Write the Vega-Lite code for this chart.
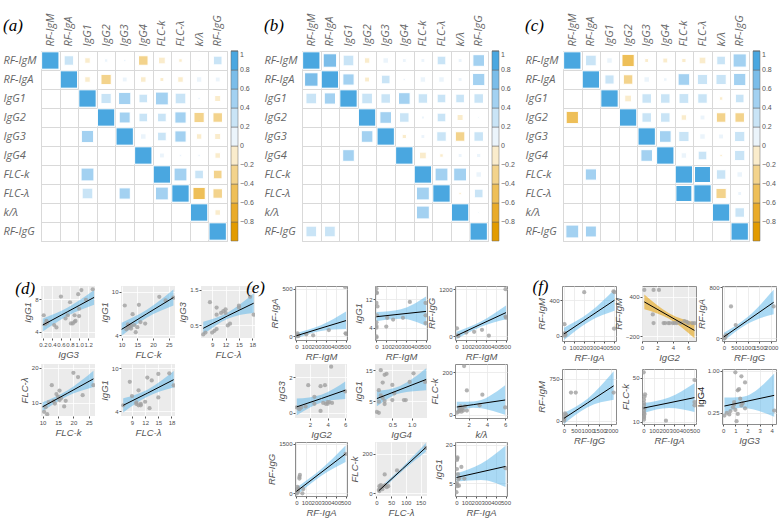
{
"$schema": "https://vega.github.io/schema/vega-lite/v6.json",
"background": "white",
"padding": {"left": 2, "top": 12, "right": 2, "bottom": 2},
"config": {
 "font": "Liberation Sans",
 "numberFormat": "d",
 "view": {"stroke": null},
 "axis": {"labelFontSize": 6, "labelColor": "#4d4d4d", "titleFontSize": 9.5, "titleColor": "#555555", "titleFontStyle": "italic", "titleFontWeight": "normal", "titlePadding": 2, "labelPadding": 1, "tickSize": 2, "tickColor": "#555555", "domain": false, "gridColor": "#e8e8e8", "gridWidth": 0.8, "labelOverlap": false, "labelFlush": false},
 "title": {"font": "Liberation Serif", "fontStyle": "italic", "fontSize": 17, "fontWeight": "normal", "anchor": "start", "frame": "bounds", "color": "#000000"},
 "legend": {"labelFontSize": 7, "labelColor": "#555555", "labelOverlap": false}
},
"resolve": {"scale": {"color": "independent", "size": "independent"}, "legend": {"color": "independent"}},
"datasets": {
"corr": [
{"m":"a","r":"RF-IgM","c":"RF-IgM","v":1},{"m":"a","r":"RF-IgM","c":"RF-IgA","v":0.3},{"m":"a","r":"RF-IgM","c":"IgG1","v":-0.1},{"m":"a","r":"RF-IgM","c":"IgG2","v":0.04},{"m":"a","r":"RF-IgM","c":"IgG3","v":0.02},{"m":"a","r":"RF-IgM","c":"IgG4","v":-0.3},{"m":"a","r":"RF-IgM","c":"FLC-k","v":-0.15},{"m":"a","r":"RF-IgM","c":"FLC-λ","v":-0.04},{"m":"a","r":"RF-IgM","c":"k/λ","v":0.01},{"m":"a","r":"RF-IgM","c":"RF-IgG","v":0.25},
{"m":"a","r":"RF-IgA","c":"RF-IgA","v":1},{"m":"a","r":"RF-IgA","c":"IgG1","v":-0.1},{"m":"a","r":"RF-IgA","c":"IgG2","v":-0.35},{"m":"a","r":"RF-IgA","c":"IgG3","v":0.08},{"m":"a","r":"RF-IgA","c":"IgG4","v":-0.1},{"m":"a","r":"RF-IgA","c":"FLC-k","v":-0.05},{"m":"a","r":"RF-IgA","c":"FLC-λ","v":-0.1},{"m":"a","r":"RF-IgA","c":"k/λ","v":0.1},{"m":"a","r":"RF-IgA","c":"RF-IgG","v":0.08},
{"m":"a","r":"IgG1","c":"IgG1","v":1},{"m":"a","r":"IgG1","c":"IgG2","v":0.35},{"m":"a","r":"IgG1","c":"IgG3","v":0.5},{"m":"a","r":"IgG1","c":"IgG4","v":0.25},{"m":"a","r":"IgG1","c":"FLC-k","v":0.55},{"m":"a","r":"IgG1","c":"FLC-λ","v":0.38},{"m":"a","r":"IgG1","c":"k/λ","v":0.02},{"m":"a","r":"IgG1","c":"RF-IgG","v":-0.12},
{"m":"a","r":"IgG2","c":"IgG2","v":1},{"m":"a","r":"IgG2","c":"IgG3","v":0.4},{"m":"a","r":"IgG2","c":"IgG4","v":0.25},{"m":"a","r":"IgG2","c":"FLC-k","v":0.25},{"m":"a","r":"IgG2","c":"FLC-λ","v":0.42},{"m":"a","r":"IgG2","c":"k/λ","v":-0.35},{"m":"a","r":"IgG2","c":"RF-IgG","v":-0.3},
{"m":"a","r":"IgG3","c":"IgG3","v":1},{"m":"a","r":"IgG3","c":"IgG4","v":0.1},{"m":"a","r":"IgG3","c":"FLC-k","v":0.25},{"m":"a","r":"IgG3","c":"FLC-λ","v":0.42},{"m":"a","r":"IgG3","c":"k/λ","v":-0.1},{"m":"a","r":"IgG3","c":"RF-IgG","v":-0.12},
{"m":"a","r":"IgG4","c":"IgG4","v":1},{"m":"a","r":"IgG4","c":"FLC-k","v":0.08},{"m":"a","r":"IgG4","c":"FLC-λ","v":0.02},{"m":"a","r":"IgG4","c":"k/λ","v":0.02},{"m":"a","r":"IgG4","c":"RF-IgG","v":-0.1},
{"m":"a","r":"FLC-k","c":"FLC-k","v":1},{"m":"a","r":"FLC-k","c":"FLC-λ","v":0.55},{"m":"a","r":"FLC-k","c":"k/λ","v":0.25},{"m":"a","r":"FLC-k","c":"RF-IgG","v":-0.25},
{"m":"a","r":"FLC-λ","c":"FLC-λ","v":1},{"m":"a","r":"FLC-λ","c":"k/λ","v":-0.5},{"m":"a","r":"FLC-λ","c":"RF-IgG","v":-0.3},
{"m":"a","r":"k/λ","c":"k/λ","v":1},{"m":"a","r":"k/λ","c":"RF-IgG","v":-0.1},
{"m":"a","r":"RF-IgG","c":"RF-IgG","v":1},
{"m":"a","r":"IgG3","c":"IgG1","v":0.5},{"m":"a","r":"FLC-k","c":"IgG1","v":0.55},{"m":"a","r":"FLC-λ","c":"IgG1","v":0.38},{"m":"a","r":"FLC-λ","c":"IgG3","v":0.42},{"m":"a","r":"FLC-λ","c":"FLC-k","v":0.55},
{"m":"b","r":"RF-IgM","c":"RF-IgM","v":1},{"m":"b","r":"RF-IgM","c":"RF-IgA","v":0.6},{"m":"b","r":"RF-IgM","c":"IgG1","v":0.38},{"m":"b","r":"RF-IgM","c":"IgG2","v":-0.1},{"m":"b","r":"RF-IgM","c":"IgG3","v":0.1},{"m":"b","r":"RF-IgM","c":"IgG4","v":0.05},{"m":"b","r":"RF-IgM","c":"FLC-k","v":0.05},{"m":"b","r":"RF-IgM","c":"FLC-λ","v":0.25},{"m":"b","r":"RF-IgM","c":"k/λ","v":0.05},{"m":"b","r":"RF-IgM","c":"RF-IgG","v":0.45},
{"m":"b","r":"RF-IgA","c":"RF-IgA","v":1},{"m":"b","r":"RF-IgA","c":"IgG1","v":0.42},{"m":"b","r":"RF-IgA","c":"IgG2","v":-0.08},{"m":"b","r":"RF-IgA","c":"IgG3","v":0.25},{"m":"b","r":"RF-IgA","c":"IgG4","v":0.02},{"m":"b","r":"RF-IgA","c":"FLC-k","v":0.1},{"m":"b","r":"RF-IgA","c":"FLC-λ","v":0.1},{"m":"b","r":"RF-IgA","c":"k/λ","v":0.05},{"m":"b","r":"RF-IgA","c":"RF-IgG","v":0.5},
{"m":"b","r":"IgG1","c":"IgG1","v":1},{"m":"b","r":"IgG1","c":"IgG2","v":0.38},{"m":"b","r":"IgG1","c":"IgG3","v":0.3},{"m":"b","r":"IgG1","c":"IgG4","v":0.45},{"m":"b","r":"IgG1","c":"FLC-k","v":0.3},{"m":"b","r":"IgG1","c":"FLC-λ","v":0.25},{"m":"b","r":"IgG1","c":"k/λ","v":0.25},{"m":"b","r":"IgG1","c":"RF-IgG","v":0.3},
{"m":"b","r":"IgG2","c":"IgG2","v":1},{"m":"b","r":"IgG2","c":"IgG3","v":0.45},{"m":"b","r":"IgG2","c":"IgG4","v":0.3},{"m":"b","r":"IgG2","c":"FLC-k","v":0.03},{"m":"b","r":"IgG2","c":"FLC-λ","v":0.25},{"m":"b","r":"IgG2","c":"k/λ","v":-0.12},{"m":"b","r":"IgG2","c":"RF-IgG","v":0.01},
{"m":"b","r":"IgG3","c":"IgG3","v":1},{"m":"b","r":"IgG3","c":"IgG4","v":-0.06},{"m":"b","r":"IgG3","c":"FLC-k","v":0.05},{"m":"b","r":"IgG3","c":"FLC-λ","v":0.3},{"m":"b","r":"IgG3","c":"k/λ","v":-0.3},{"m":"b","r":"IgG3","c":"RF-IgG","v":0.3},
{"m":"b","r":"IgG4","c":"IgG4","v":1},{"m":"b","r":"IgG4","c":"FLC-k","v":-0.15},{"m":"b","r":"IgG4","c":"FLC-λ","v":-0.04},{"m":"b","r":"IgG4","c":"k/λ","v":0.05},{"m":"b","r":"IgG4","c":"RF-IgG","v":0.06},
{"m":"b","r":"FLC-k","c":"FLC-k","v":1},{"m":"b","r":"FLC-k","c":"FLC-λ","v":0.55},{"m":"b","r":"FLC-k","c":"k/λ","v":0.55},{"m":"b","r":"FLC-k","c":"RF-IgG","v":0.1},
{"m":"b","r":"FLC-λ","c":"FLC-λ","v":1},{"m":"b","r":"FLC-λ","c":"k/λ","v":-0.02},{"m":"b","r":"FLC-λ","c":"RF-IgG","v":0.25},
{"m":"b","r":"k/λ","c":"k/λ","v":1},{"m":"b","r":"k/λ","c":"RF-IgG","v":0.01},
{"m":"b","r":"RF-IgG","c":"RF-IgG","v":1},
{"m":"b","r":"RF-IgA","c":"RF-IgM","v":0.6},{"m":"b","r":"IgG1","c":"RF-IgM","v":0.38},{"m":"b","r":"IgG1","c":"RF-IgA","v":0.42},{"m":"b","r":"IgG3","c":"IgG2","v":0.45},{"m":"b","r":"IgG4","c":"IgG1","v":0.45},{"m":"b","r":"FLC-λ","c":"FLC-k","v":0.55},{"m":"b","r":"k/λ","c":"FLC-k","v":0.55},{"m":"b","r":"RF-IgG","c":"RF-IgM","v":0.38},{"m":"b","r":"RF-IgG","c":"RF-IgA","v":0.38},
{"m":"c","r":"RF-IgM","c":"RF-IgM","v":1},{"m":"c","r":"RF-IgM","c":"RF-IgA","v":0.38},{"m":"c","r":"RF-IgM","c":"IgG1","v":0.1},{"m":"c","r":"RF-IgM","c":"IgG2","v":-0.5},{"m":"c","r":"RF-IgM","c":"IgG3","v":-0.05},{"m":"c","r":"RF-IgM","c":"IgG4","v":-0.08},{"m":"c","r":"RF-IgM","c":"FLC-k","v":-0.06},{"m":"c","r":"RF-IgM","c":"FLC-λ","v":-0.15},{"m":"c","r":"RF-IgM","c":"k/λ","v":0.25},{"m":"c","r":"RF-IgM","c":"RF-IgG","v":0.58},
{"m":"c","r":"RF-IgA","c":"RF-IgA","v":1},{"m":"c","r":"RF-IgA","c":"IgG1","v":0.28},{"m":"c","r":"RF-IgA","c":"IgG2","v":-0.3},{"m":"c","r":"RF-IgA","c":"IgG3","v":0.1},{"m":"c","r":"RF-IgA","c":"IgG4","v":0.04},{"m":"c","r":"RF-IgA","c":"FLC-k","v":0.45},{"m":"c","r":"RF-IgA","c":"FLC-λ","v":0.35},{"m":"c","r":"RF-IgA","c":"k/λ","v":0.35},{"m":"c","r":"RF-IgA","c":"RF-IgG","v":0.5},
{"m":"c","r":"IgG1","c":"IgG1","v":1},{"m":"c","r":"IgG1","c":"IgG2","v":-0.15},{"m":"c","r":"IgG1","c":"IgG3","v":0.3},{"m":"c","r":"IgG1","c":"IgG4","v":0.3},{"m":"c","r":"IgG1","c":"FLC-k","v":0.32},{"m":"c","r":"IgG1","c":"FLC-λ","v":0.3},{"m":"c","r":"IgG1","c":"k/λ","v":-0.04},{"m":"c","r":"IgG1","c":"RF-IgG","v":0.25},
{"m":"c","r":"IgG2","c":"IgG2","v":1},{"m":"c","r":"IgG2","c":"IgG3","v":0.3},{"m":"c","r":"IgG2","c":"IgG4","v":0.3},{"m":"c","r":"IgG2","c":"FLC-k","v":-0.1},{"m":"c","r":"IgG2","c":"FLC-λ","v":0.08},{"m":"c","r":"IgG2","c":"k/λ","v":-0.3},{"m":"c","r":"IgG2","c":"RF-IgG","v":-0.3},
{"m":"c","r":"IgG3","c":"IgG3","v":1},{"m":"c","r":"IgG3","c":"IgG4","v":0.45},{"m":"c","r":"IgG3","c":"FLC-k","v":0.35},{"m":"c","r":"IgG3","c":"FLC-λ","v":0.1},{"m":"c","r":"IgG3","c":"k/λ","v":0.08},{"m":"c","r":"IgG3","c":"RF-IgG","v":0.35},
{"m":"c","r":"IgG4","c":"IgG4","v":1},{"m":"c","r":"IgG4","c":"FLC-k","v":0.1},{"m":"c","r":"IgG4","c":"FLC-λ","v":0.25},{"m":"c","r":"IgG4","c":"k/λ","v":-0.02},{"m":"c","r":"IgG4","c":"RF-IgG","v":0.35},
{"m":"c","r":"FLC-k","c":"FLC-k","v":1},{"m":"c","r":"FLC-k","c":"FLC-λ","v":0.85},{"m":"c","r":"FLC-k","c":"k/λ","v":0.3},{"m":"c","r":"FLC-k","c":"RF-IgG","v":0.1},
{"m":"c","r":"FLC-λ","c":"FLC-λ","v":1},{"m":"c","r":"FLC-λ","c":"k/λ","v":-0.35},{"m":"c","r":"FLC-λ","c":"RF-IgG","v":0.05},
{"m":"c","r":"k/λ","c":"k/λ","v":1},{"m":"c","r":"k/λ","c":"RF-IgG","v":0.3},
{"m":"c","r":"RF-IgG","c":"RF-IgG","v":1},
{"m":"c","r":"IgG2","c":"RF-IgM","v":-0.5},{"m":"c","r":"IgG4","c":"IgG3","v":0.45},{"m":"c","r":"FLC-k","c":"RF-IgA","v":0.42},{"m":"c","r":"FLC-λ","c":"FLC-k","v":0.85},{"m":"c","r":"RF-IgG","c":"RF-IgM","v":0.55},{"m":"c","r":"RF-IgG","c":"RF-IgA","v":0.4}
],
"sc": [
{"p":"d1","x":0.22,"y":6.0},{"p":"d1","x":0.25,"y":4.9},{"p":"d1","x":0.28,"y":5.3},{"p":"d1","x":0.3,"y":5.1},{"p":"d1","x":0.45,"y":4.8},{"p":"d1","x":0.5,"y":4.5},{"p":"d1","x":0.6,"y":8.3},{"p":"d1","x":0.7,"y":5.6},{"p":"d1","x":0.75,"y":6.0},{"p":"d1","x":0.8,"y":7.6},{"p":"d1","x":0.82,"y":5.0},{"p":"d1","x":0.86,"y":5.0},{"p":"d1","x":0.9,"y":5.2},{"p":"d1","x":0.9,"y":6.0},{"p":"d1","x":0.92,"y":5.3},{"p":"d1","x":0.98,"y":8.6},{"p":"d1","x":1.0,"y":5.9},{"p":"d1","x":1.0,"y":6.8},{"p":"d1","x":1.05,"y":9.1},{"p":"d1","x":1.15,"y":7.9},{"p":"d1","x":1.3,"y":9.2},
{"p":"d1","f":1,"x":0.2,"y":4.8,"lo":4.0,"hi":5.6},{"p":"d1","f":1,"x":0.75,"y":6.45,"lo":5.95,"hi":6.95},{"p":"d1","f":1,"x":1.33,"y":8.2,"lo":7.3,"hi":9.1},
{"p":"d2","x":11,"y":8.1},{"p":"d2","x":11.5,"y":4.8},{"p":"d2","x":12,"y":5.0},{"p":"d2","x":12.5,"y":5.2},{"p":"d2","x":13,"y":5.3},{"p":"d2","x":13.5,"y":6.9},{"p":"d2","x":14,"y":5.4},{"p":"d2","x":14.5,"y":4.4},{"p":"d2","x":15,"y":5.1},{"p":"d2","x":15.5,"y":8.2},{"p":"d2","x":16,"y":5.8},{"p":"d2","x":17.5,"y":5.6},{"p":"d2","x":22,"y":9.3},{"p":"d2","x":26.5,"y":9.2},{"p":"d2","x":12,"y":5.5},{"p":"d2","x":13,"y":4.9},{"p":"d2","x":24,"y":8.8},
{"p":"d2","f":1,"x":10,"y":4.8,"lo":3.9,"hi":5.7},{"p":"d2","f":1,"x":18,"y":6.95,"lo":6.4,"hi":7.5},{"p":"d2","f":1,"x":26.5,"y":9.2,"lo":8.1,"hi":10.3},
{"p":"d3","x":7,"y":0.25},{"p":"d3","x":7.5,"y":0.3},{"p":"d3","x":8.5,"y":1.15},{"p":"d3","x":9,"y":0.3},{"p":"d3","x":9.5,"y":0.35},{"p":"d3","x":10,"y":1.0},{"p":"d3","x":10,"y":0.4},{"p":"d3","x":10,"y":0.8},{"p":"d3","x":11,"y":0.85},{"p":"d3","x":11.5,"y":0.9},{"p":"d3","x":12,"y":0.85},{"p":"d3","x":12,"y":0.95},{"p":"d3","x":12.5,"y":0.5},{"p":"d3","x":13,"y":0.55},{"p":"d3","x":15,"y":1.05},{"p":"d3","x":15,"y":1.0},{"p":"d3","x":17.5,"y":1.3},{"p":"d3","x":18.3,"y":0.8},
{"p":"d3","f":1,"x":7,"y":0.42,"lo":0.25,"hi":0.6},{"p":"d3","f":1,"x":12.5,"y":0.77,"lo":0.69,"hi":0.86},{"p":"d3","f":1,"x":18.3,"y":1.12,"lo":0.85,"hi":1.4},
{"p":"d4","x":10.5,"y":7.5},{"p":"d4","x":11,"y":8.8},{"p":"d4","x":11.5,"y":6.8},{"p":"d4","x":12,"y":10.2},{"p":"d4","x":13,"y":15.0},{"p":"d4","x":13.5,"y":10.5},{"p":"d4","x":14,"y":9.8},{"p":"d4","x":14.5,"y":12.5},{"p":"d4","x":15,"y":11.8},{"p":"d4","x":15.5,"y":13.5},{"p":"d4","x":15.5,"y":10.8},{"p":"d4","x":16,"y":11.3},{"p":"d4","x":17,"y":9.0},{"p":"d4","x":17.5,"y":10.6},{"p":"d4","x":20,"y":18.5},{"p":"d4","x":21.5,"y":17.3},{"p":"d4","x":23,"y":12.2},{"p":"d4","x":26.5,"y":15.0},
{"p":"d4","f":1,"x":10,"y":8.9,"lo":7.6,"hi":10.2},{"p":"d4","f":1,"x":18,"y":12.7,"lo":11.9,"hi":13.5},{"p":"d4","f":1,"x":26.5,"y":16.8,"lo":14.5,"hi":19.1},
{"p":"d5","x":7,"y":4.8},{"p":"d5","x":8.5,"y":8.1},{"p":"d5","x":9,"y":6.1},{"p":"d5","x":10,"y":5.0},{"p":"d5","x":10.5,"y":4.8},{"p":"d5","x":10.5,"y":6.9},{"p":"d5","x":11,"y":5.0},{"p":"d5","x":11,"y":4.8},{"p":"d5","x":12,"y":5.3},{"p":"d5","x":12.5,"y":8.7},{"p":"d5","x":13,"y":4.4},{"p":"d5","x":13.5,"y":8.3},{"p":"d5","x":15,"y":5.9},{"p":"d5","x":15,"y":9.2},{"p":"d5","x":17.5,"y":9.3},{"p":"d5","x":18.5,"y":7.6},{"p":"d5","x":10,"y":5.2},
{"p":"d5","f":1,"x":7,"y":4.8,"lo":3.8,"hi":5.8},{"p":"d5","f":1,"x":12.5,"y":6.5,"lo":6.0,"hi":7.0},{"p":"d5","f":1,"x":18.5,"y":8.4,"lo":7.3,"hi":9.6},
{"p":"e1","x":5,"y":10},{"p":"e1","x":10,"y":30},{"p":"e1","x":15,"y":0},{"p":"e1","x":20,"y":5},{"p":"e1","x":100,"y":20},{"p":"e1","x":170,"y":10},{"p":"e1","x":330,"y":65},{"p":"e1","x":495,"y":520},{"p":"e1","x":500,"y":30},{"p":"e1","x":505,"y":25},
{"p":"e1","f":1,"x":0,"y":5,"lo":-25,"hi":35},{"p":"e1","f":1,"x":250,"y":85,"lo":55,"hi":115},{"p":"e1","f":1,"x":505,"y":165,"lo":75,"hi":260},
{"p":"e2","x":0,"y":15},{"p":"e2","x":0,"y":14},{"p":"e2","x":5,"y":13.8},{"p":"e2","x":0,"y":11},{"p":"e2","x":10,"y":10},{"p":"e2","x":0,"y":5.5},{"p":"e2","x":0,"y":4.5},{"p":"e2","x":0,"y":4},{"p":"e2","x":0,"y":1.5},{"p":"e2","x":0,"y":1.2},{"p":"e2","x":5,"y":7.5},{"p":"e2","x":100,"y":4.3},{"p":"e2","x":110,"y":6.8},{"p":"e2","x":170,"y":6.3},{"p":"e2","x":270,"y":6.8},{"p":"e2","x":340,"y":11.3},{"p":"e2","x":500,"y":11},{"p":"e2","x":500,"y":5.3},{"p":"e2","x":500,"y":7.5},
{"p":"e2","f":1,"x":0,"y":7.1,"lo":5.8,"hi":8.4},{"p":"e2","f":1,"x":250,"y":7.85,"lo":6.5,"hi":9.2},{"p":"e2","f":1,"x":505,"y":8.6,"lo":4.5,"hi":12.8},
{"p":"e3","x":5,"y":200},{"p":"e3","x":10,"y":20},{"p":"e3","x":20,"y":0},{"p":"e3","x":100,"y":90},{"p":"e3","x":180,"y":110},{"p":"e3","x":260,"y":160},{"p":"e3","x":330,"y":10},{"p":"e3","x":500,"y":1200},{"p":"e3","x":500,"y":500},{"p":"e3","x":505,"y":470},
{"p":"e3","f":1,"x":0,"y":10,"lo":-80,"hi":110},{"p":"e3","f":1,"x":250,"y":305,"lo":240,"hi":370},{"p":"e3","f":1,"x":505,"y":600,"lo":430,"hi":780},
{"p":"e4","x":0.5,"y":0.3},{"p":"e4","x":0.8,"y":0.2},{"p":"e4","x":1.0,"y":0.3},{"p":"e4","x":1.8,"y":1.55},{"p":"e4","x":2.5,"y":0.9},{"p":"e4","x":3.2,"y":1.5},{"p":"e4","x":3.2,"y":0.1},{"p":"e4","x":3.5,"y":0.55},{"p":"e4","x":3.7,"y":1.55},{"p":"e4","x":3.8,"y":0.5},{"p":"e4","x":4.0,"y":0.5},{"p":"e4","x":4.0,"y":0.6},{"p":"e4","x":4.2,"y":0.6},{"p":"e4","x":4.4,"y":2.6},{"p":"e4","x":4.5,"y":0.55},{"p":"e4","x":2.5,"y":0.5},{"p":"e4","x":1.5,"y":0.35},{"p":"e4","x":6.0,"y":1.2},
{"p":"e4","f":1,"x":0.5,"y":0.33,"lo":-0.15,"hi":0.8},{"p":"e4","f":1,"x":3.3,"y":0.8,"lo":0.58,"hi":1.02},{"p":"e4","f":1,"x":6.0,"y":1.27,"lo":0.78,"hi":1.76},
{"p":"e5","x":0.1,"y":1.5},{"p":"e5","x":0.15,"y":1.2},{"p":"e5","x":0.15,"y":8.5},{"p":"e5","x":0.15,"y":4.8},{"p":"e5","x":0.2,"y":15},{"p":"e5","x":0.25,"y":6.0},{"p":"e5","x":0.25,"y":11},{"p":"e5","x":0.3,"y":4},{"p":"e5","x":0.3,"y":13.5},{"p":"e5","x":0.3,"y":5},{"p":"e5","x":0.35,"y":13.8},{"p":"e5","x":0.5,"y":10.2},{"p":"e5","x":0.5,"y":5.3},{"p":"e5","x":0.55,"y":7.5},{"p":"e5","x":0.8,"y":5.3},{"p":"e5","x":0.85,"y":5.3},{"p":"e5","x":0.95,"y":11.2},{"p":"e5","x":1.05,"y":14.0},{"p":"e5","x":1.35,"y":11.2},{"p":"e5","x":0.2,"y":6.8},
{"p":"e5","f":1,"x":0.1,"y":5.8,"lo":3.3,"hi":8.3},{"p":"e5","f":1,"x":0.7,"y":8.7,"lo":7.5,"hi":9.9},{"p":"e5","f":1,"x":1.38,"y":12.0,"lo":8.5,"hi":15.6},
{"p":"e6","x":0.7,"y":10},{"p":"e6","x":0.9,"y":15},{"p":"e6","x":1.0,"y":20},{"p":"e6","x":1.1,"y":40},{"p":"e6","x":1.2,"y":25},{"p":"e6","x":1.3,"y":30},{"p":"e6","x":1.4,"y":20},{"p":"e6","x":1.5,"y":230},{"p":"e6","x":1.6,"y":40},{"p":"e6","x":1.8,"y":20},{"p":"e6","x":1.8,"y":115},{"p":"e6","x":3.5,"y":95},{"p":"e6","x":3.2,"y":45},{"p":"e6","x":6.0,"y":35},{"p":"e6","x":1.0,"y":30},{"p":"e6","x":1.2,"y":15},
{"p":"e6","f":1,"x":0.7,"y":37,"lo":12,"hi":62},{"p":"e6","f":1,"x":2.5,"y":48,"lo":33,"hi":63},{"p":"e6","f":1,"x":6.0,"y":70,"lo":0,"hi":140},
{"p":"e7","x":5,"y":0},{"p":"e7","x":10,"y":200},{"p":"e7","x":15,"y":100},{"p":"e7","x":20,"y":150},{"p":"e7","x":30,"y":500},{"p":"e7","x":35,"y":560},{"p":"e7","x":30,"y":450},{"p":"e7","x":60,"y":0},{"p":"e7","x":70,"y":130},{"p":"e7","x":500,"y":1200},{"p":"e7","x":15,"y":50},
{"p":"e7","f":1,"x":0,"y":60,"lo":-60,"hi":180},{"p":"e7","f":1,"x":250,"y":630,"lo":530,"hi":730},{"p":"e7","f":1,"x":500,"y":1200,"lo":950,"hi":1450},
{"p":"e8","x":8,"y":15},{"p":"e8","x":10,"y":35},{"p":"e8","x":12,"y":25},{"p":"e8","x":15,"y":40},{"p":"e8","x":18,"y":30},{"p":"e8","x":20,"y":20},{"p":"e8","x":25,"y":35},{"p":"e8","x":28,"y":95},{"p":"e8","x":30,"y":40},{"p":"e8","x":35,"y":30},{"p":"e8","x":40,"y":35},{"p":"e8","x":70,"y":115},{"p":"e8","x":168,"y":230},{"p":"e8","x":10,"y":10},
{"p":"e8","f":1,"x":8,"y":12,"lo":0,"hi":25},{"p":"e8","f":1,"x":88,"y":122,"lo":112,"hi":132},{"p":"e8","f":1,"x":168,"y":232,"lo":210,"hi":255},
{"p":"e9","x":0,"y":1.5},{"p":"e9","x":0,"y":4.5},{"p":"e9","x":5,"y":5},{"p":"e9","x":5,"y":10.5},{"p":"e9","x":5,"y":14},{"p":"e9","x":8,"y":14.5},{"p":"e9","x":10,"y":15},{"p":"e9","x":15,"y":8.5},{"p":"e9","x":20,"y":6.5},{"p":"e9","x":25,"y":4},{"p":"e9","x":30,"y":7},{"p":"e9","x":50,"y":11.3},{"p":"e9","x":80,"y":6.8},{"p":"e9","x":500,"y":10.8},{"p":"e9","x":10,"y":3.8},
{"p":"e9","f":1,"x":0,"y":7.2,"lo":5.6,"hi":8.8},{"p":"e9","f":1,"x":250,"y":9.35,"lo":6.2,"hi":12.5},{"p":"e9","f":1,"x":500,"y":11.5,"lo":3.5,"hi":19.5},
{"p":"f1","x":5,"y":0},{"p":"f1","x":5,"y":130},{"p":"f1","x":10,"y":30},{"p":"f1","x":15,"y":10},{"p":"f1","x":200,"y":490},{"p":"f1","x":490,"y":500},{"p":"f1","x":500,"y":490},{"p":"f1","x":495,"y":80},{"p":"f1","x":10,"y":20},
{"p":"f1","f":1,"x":0,"y":20,"lo":-50,"hi":90},{"p":"f1","f":1,"x":250,"y":210,"lo":160,"hi":260},{"p":"f1","f":1,"x":500,"y":400,"lo":280,"hi":520},
{"p":"f2","x":0.3,"y":500},{"p":"f2","x":1.5,"y":500},{"p":"f2","x":2.2,"y":500},{"p":"f2","x":1.4,"y":130},{"p":"f2","x":1.5,"y":0},{"p":"f2","x":2.8,"y":0},{"p":"f2","x":3.0,"y":0},{"p":"f2","x":3.4,"y":0},{"p":"f2","x":3.6,"y":0},{"p":"f2","x":4.0,"y":0},{"p":"f2","x":4.2,"y":0},{"p":"f2","x":4.5,"y":0},{"p":"f2","x":5.0,"y":5},{"p":"f2","x":5.5,"y":30},{"p":"f2","x":6.0,"y":0},{"p":"f2","x":6.5,"y":0},{"p":"f2","x":6.8,"y":0},{"p":"f2","x":5.8,"y":20},
{"p":"f2","f":1,"x":0.3,"y":320,"lo":210,"hi":430},{"p":"f2","f":1,"x":3.5,"y":108,"lo":65,"hi":150},{"p":"f2","f":1,"x":6.8,"y":-110,"lo":-230,"hi":10},
{"p":"f3","x":10,"y":0},{"p":"f3","x":20,"y":30},{"p":"f3","x":50,"y":10},{"p":"f3","x":300,"y":500},{"p":"f3","x":500,"y":210},{"p":"f3","x":2100,"y":500},{"p":"f3","x":100,"y":50},
{"p":"f3","f":1,"x":0,"y":25,"lo":-40,"hi":90},{"p":"f3","f":1,"x":1000,"y":282,"lo":230,"hi":335},{"p":"f3","f":1,"x":2100,"y":565,"lo":380,"hi":760},
{"p":"f4","x":10,"y":0},{"p":"f4","x":20,"y":30},{"p":"f4","x":50,"y":130},{"p":"f4","x":100,"y":100},{"p":"f4","x":300,"y":500},{"p":"f4","x":500,"y":500},{"p":"f4","x":2100,"y":500},{"p":"f4","x":30,"y":80},
{"p":"f4","f":1,"x":0,"y":40,"lo":-60,"hi":140},{"p":"f4","f":1,"x":1000,"y":316,"lo":240,"hi":392},{"p":"f4","f":1,"x":2100,"y":620,"lo":370,"hi":880},
{"p":"f5","x":2,"y":55},{"p":"f5","x":5,"y":12},{"p":"f5","x":5,"y":15},{"p":"f5","x":5,"y":18},{"p":"f5","x":5,"y":20},{"p":"f5","x":5,"y":25},{"p":"f5","x":5,"y":30},{"p":"f5","x":5,"y":14},{"p":"f5","x":10,"y":33},{"p":"f5","x":15,"y":35},{"p":"f5","x":10,"y":22},{"p":"f5","x":10,"y":17},{"p":"f5","x":220,"y":11},{"p":"f5","x":500,"y":48},{"p":"f5","x":500,"y":28},{"p":"f5","x":500,"y":25},{"p":"f5","x":5,"y":27},
{"p":"f5","f":1,"x":0,"y":22.5,"lo":18,"hi":27},{"p":"f5","f":1,"x":250,"y":27.2,"lo":22.5,"hi":32},{"p":"f5","f":1,"x":500,"y":32,"lo":19,"hi":45},
{"p":"f6","x":0.1,"y":0.2},{"p":"f6","x":0.3,"y":0.25},{"p":"f6","x":0.5,"y":0.22},{"p":"f6","x":0.6,"y":0.28},{"p":"f6","x":0.8,"y":0.35},{"p":"f6","x":0.9,"y":0.4},{"p":"f6","x":1.0,"y":0.97},{"p":"f6","x":1.0,"y":0.3},{"p":"f6","x":1.1,"y":0.1},{"p":"f6","x":1.2,"y":0.65},{"p":"f6","x":1.2,"y":0.23},{"p":"f6","x":1.3,"y":0.67},{"p":"f6","x":1.4,"y":0.5},{"p":"f6","x":1.5,"y":0.9},{"p":"f6","x":1.5,"y":0.38},{"p":"f6","x":1.6,"y":0.42},{"p":"f6","x":1.8,"y":0.79},{"p":"f6","x":1.8,"y":0.33},{"p":"f6","x":4.2,"y":0.29},{"p":"f6","x":0.9,"y":0.44},
{"p":"f6","f":1,"x":0.1,"y":0.37,"lo":0.22,"hi":0.52},{"p":"f6","f":1,"x":1.5,"y":0.435,"lo":0.34,"hi":0.53},{"p":"f6","f":1,"x":4.2,"y":0.56,"lo":0.18,"hi":0.95}
]
},
"spacing": 34,
"vconcat": [
{"hconcat": [
 {"title": {"text": "(a)", "offset": -22}, "data": {"name": "corr"}, "transform": [{"filter": "datum.m=='a'"}], "width": 186, "height": 190, "view": {"stroke": "#d9d9d9"},
  "mark": {"type": "square", "filled": true, "stroke": "white", "strokeWidth": 1, "opacity": 1},
  "encoding": {
   "x": {"field": "c", "type": "nominal", "scale": {"type": "band", "domain": ["RF-IgM","RF-IgA","IgG1","IgG2","IgG3","IgG4","FLC-k","FLC-λ","k/λ","RF-IgG"], "paddingInner": 0, "paddingOuter": 0}, "axis": {"orient": "top", "title": null, "labelAngle": -90, "labelFontSize": 11, "labelFont": "Open Sans", "labelFontStyle": "italic", "labelColor": "#666666", "labelPadding": 5, "ticks": false, "domain": false, "grid": true, "tickBand": "extent", "gridColor": "#d9d9d9", "gridWidth": 1}},
   "y": {"field": "r", "type": "nominal", "scale": {"type": "band", "domain": ["RF-IgM","RF-IgA","IgG1","IgG2","IgG3","IgG4","FLC-k","FLC-λ","k/λ","RF-IgG"], "paddingInner": 0, "paddingOuter": 0}, "axis": {"title": null, "labelFontSize": 11, "labelFont": "Open Sans", "labelFontStyle": "italic", "labelColor": "#666666", "labelAlign": "left", "labelPadding": 38, "ticks": false, "domain": false, "grid": true, "tickBand": "extent", "gridColor": "#d9d9d9", "gridWidth": 1}},
   "color": {"field": "v", "type": "quantitative", "scale": {"type": "quantize", "domain": [-1, 1], "nice": false, "zero": false, "range": ["#e29b00","#e9ab2a","#eebf58","#f3d38c","#faeccc","#ebf4fb","#c9e4f6","#a3d1f1","#7bbde9","#4aa7e0"]}, "legend": {"type": "gradient", "title": null, "orient": "right", "direction": "vertical", "gradientLength": 190, "gradientThickness": 7, "offset": 4, "labelOffset": 2, "labelOverlap": false, "format": ".1~f", "values": [-1,-0.8,-0.6,-0.4,-0.2,0,0.2,0.4,0.6,0.8,1], "gradientStrokeColor": "#666666", "gradientStrokeWidth": 0.5}},
   "size": {"field": "v", "type": "quantitative", "scale": {"domain": [-1, 0, 1], "range": [300, 0, 300]}, "legend": null}
  }},
 {"title": {"text": "(b)", "offset": -22}, "data": {"name": "corr"}, "transform": [{"filter": "datum.m=='b'"}], "width": 186, "height": 190, "view": {"stroke": "#d9d9d9"},
  "mark": {"type": "square", "filled": true, "stroke": "white", "strokeWidth": 1, "opacity": 1},
  "encoding": {
   "x": {"field": "c", "type": "nominal", "scale": {"type": "band", "domain": ["RF-IgM","RF-IgA","IgG1","IgG2","IgG3","IgG4","FLC-k","FLC-λ","k/λ","RF-IgG"], "paddingInner": 0, "paddingOuter": 0}, "axis": {"orient": "top", "title": null, "labelAngle": -90, "labelFontSize": 11, "labelFont": "Open Sans", "labelFontStyle": "italic", "labelColor": "#666666", "labelPadding": 5, "ticks": false, "domain": false, "grid": true, "tickBand": "extent", "gridColor": "#d9d9d9", "gridWidth": 1}},
   "y": {"field": "r", "type": "nominal", "scale": {"type": "band", "domain": ["RF-IgM","RF-IgA","IgG1","IgG2","IgG3","IgG4","FLC-k","FLC-λ","k/λ","RF-IgG"], "paddingInner": 0, "paddingOuter": 0}, "axis": {"title": null, "labelFontSize": 11, "labelFont": "Open Sans", "labelFontStyle": "italic", "labelColor": "#666666", "labelAlign": "left", "labelPadding": 38, "ticks": false, "domain": false, "grid": true, "tickBand": "extent", "gridColor": "#d9d9d9", "gridWidth": 1}},
   "color": {"field": "v", "type": "quantitative", "scale": {"type": "quantize", "domain": [-1, 1], "nice": false, "zero": false, "range": ["#e29b00","#e9ab2a","#eebf58","#f3d38c","#faeccc","#ebf4fb","#c9e4f6","#a3d1f1","#7bbde9","#4aa7e0"]}, "legend": {"type": "gradient", "title": null, "orient": "right", "direction": "vertical", "gradientLength": 190, "gradientThickness": 7, "offset": 4, "labelOffset": 2, "labelOverlap": false, "format": ".1~f", "values": [-1,-0.8,-0.6,-0.4,-0.2,0,0.2,0.4,0.6,0.8,1], "gradientStrokeColor": "#666666", "gradientStrokeWidth": 0.5}},
   "size": {"field": "v", "type": "quantitative", "scale": {"domain": [-1, 0, 1], "range": [300, 0, 300]}, "legend": null}
  }},
 {"title": {"text": "(c)", "offset": -22}, "data": {"name": "corr"}, "transform": [{"filter": "datum.m=='c'"}], "width": 186, "height": 190, "view": {"stroke": "#d9d9d9"},
  "mark": {"type": "square", "filled": true, "stroke": "white", "strokeWidth": 1, "opacity": 1},
  "encoding": {
   "x": {"field": "c", "type": "nominal", "scale": {"type": "band", "domain": ["RF-IgM","RF-IgA","IgG1","IgG2","IgG3","IgG4","FLC-k","FLC-λ","k/λ","RF-IgG"], "paddingInner": 0, "paddingOuter": 0}, "axis": {"orient": "top", "title": null, "labelAngle": -90, "labelFontSize": 11, "labelFont": "Open Sans", "labelFontStyle": "italic", "labelColor": "#666666", "labelPadding": 5, "ticks": false, "domain": false, "grid": true, "tickBand": "extent", "gridColor": "#d9d9d9", "gridWidth": 1}},
   "y": {"field": "r", "type": "nominal", "scale": {"type": "band", "domain": ["RF-IgM","RF-IgA","IgG1","IgG2","IgG3","IgG4","FLC-k","FLC-λ","k/λ","RF-IgG"], "paddingInner": 0, "paddingOuter": 0}, "axis": {"title": null, "labelFontSize": 11, "labelFont": "Open Sans", "labelFontStyle": "italic", "labelColor": "#666666", "labelAlign": "left", "labelPadding": 38, "ticks": false, "domain": false, "grid": true, "tickBand": "extent", "gridColor": "#d9d9d9", "gridWidth": 1}},
   "color": {"field": "v", "type": "quantitative", "scale": {"type": "quantize", "domain": [-1, 1], "nice": false, "zero": false, "range": ["#e29b00","#e9ab2a","#eebf58","#f3d38c","#faeccc","#ebf4fb","#c9e4f6","#a3d1f1","#7bbde9","#4aa7e0"]}, "legend": {"type": "gradient", "title": null, "orient": "right", "direction": "vertical", "gradientLength": 190, "gradientThickness": 7, "offset": 4, "labelOffset": 2, "labelOverlap": false, "format": ".1~f", "values": [-1,-0.8,-0.6,-0.4,-0.2,0,0.2,0.4,0.6,0.8,1], "gradientStrokeColor": "#666666", "gradientStrokeWidth": 0.5}},
   "size": {"field": "v", "type": "quantitative", "scale": {"domain": [-1, 0, 1], "range": [300, 0, 300]}, "legend": null}
  }}
 ], "spacing": 8, "resolve": {"scale": {"color": "independent", "size": "independent"}, "legend": {"color": "independent"}}},
{"hconcat": [
 {"hconcat": [
 {"title": {"text": "(d)", "offset": -12, "dx": -4}, "data": {"name": "sc"}, "columns": 3, "bounds": "flush", "align": "all", "spacing": {"row": 26, "column": 26}, "concat": [
  {"width": 54, "height": 52, "view": {"fill": "#ebebeb", "stroke": null}, "transform": [{"filter": "datum.p=='d1'"}],
   "encoding": {"x": {"field": "x", "type": "quantitative", "scale": {"domain": [0.16, 1.35], "nice": false, "zero": false}, "axis": {"title": "IgG3", "values": [0.2,0.4,0.6,0.8,1.0,1.2], "format": ".1f", "gridColor": "white"}}},
   "layer": [
    {"transform": [{"filter": "datum.f==1"}], "mark": {"type": "area", "color": "#56b4e9", "opacity": 0.5, "interpolate": "monotone", "clip": true}, "encoding": {"y": {"field": "lo", "type": "quantitative", "scale": {"domain": [3.2, 9.6], "nice": false, "zero": false}, "axis": {"title": "IgG1", "values": [4,6,8], "gridColor": "white"}}, "y2": {"field": "hi"}}},
    {"transform": [{"filter": "datum.f!=1"}], "mark": {"type": "circle", "color": "#a0a0a0", "size": 18, "opacity": 0.8, "clip": true}, "encoding": {"y": {"field": "y", "type": "quantitative"}}},
    {"transform": [{"filter": "datum.f==1"}], "mark": {"type": "line", "color": "black", "strokeWidth": 1, "clip": true}, "encoding": {"y": {"field": "y", "type": "quantitative"}}}
   ]},
  {"width": 54, "height": 52, "view": {"fill": "#ebebeb", "stroke": null}, "transform": [{"filter": "datum.p=='d2'"}],
   "encoding": {"x": {"field": "x", "type": "quantitative", "scale": {"domain": [9.8, 27], "nice": false, "zero": false}, "axis": {"title": "FLC-k", "values": [10,15,20,25], "gridColor": "white"}}},
   "layer": [
    {"transform": [{"filter": "datum.f==1"}], "mark": {"type": "area", "color": "#56b4e9", "opacity": 0.5, "interpolate": "monotone", "clip": true}, "encoding": {"y": {"field": "lo", "type": "quantitative", "scale": {"domain": [3.6, 10.8], "nice": false, "zero": false}, "axis": {"title": "IgG1", "values": [4,6,8,10], "gridColor": "white"}}, "y2": {"field": "hi"}}},
    {"transform": [{"filter": "datum.f!=1"}], "mark": {"type": "circle", "color": "#a0a0a0", "size": 18, "opacity": 0.8, "clip": true}, "encoding": {"y": {"field": "y", "type": "quantitative"}}},
    {"transform": [{"filter": "datum.f==1"}], "mark": {"type": "line", "color": "black", "strokeWidth": 1, "clip": true}, "encoding": {"y": {"field": "y", "type": "quantitative"}}}
   ]},
  {"width": 54, "height": 52, "view": {"fill": "#ebebeb", "stroke": null}, "transform": [{"filter": "datum.p=='d3'"}],
   "encoding": {"x": {"field": "x", "type": "quantitative", "scale": {"domain": [6.5, 18.6], "nice": false, "zero": false}, "axis": {"title": "FLC-λ", "values": [9,12,15,18], "gridColor": "white"}}},
   "layer": [
    {"transform": [{"filter": "datum.f==1"}], "mark": {"type": "area", "color": "#56b4e9", "opacity": 0.5, "interpolate": "monotone", "clip": true}, "encoding": {"y": {"field": "lo", "type": "quantitative", "scale": {"domain": [0.15, 1.6], "nice": false, "zero": false}, "axis": {"title": "IgG3", "values": [0.5,1.0,1.5], "format": ".1f", "gridColor": "white"}}, "y2": {"field": "hi"}}},
    {"transform": [{"filter": "datum.f!=1"}], "mark": {"type": "circle", "color": "#a0a0a0", "size": 18, "opacity": 0.8, "clip": true}, "encoding": {"y": {"field": "y", "type": "quantitative"}}},
    {"transform": [{"filter": "datum.f==1"}], "mark": {"type": "line", "color": "black", "strokeWidth": 1, "clip": true}, "encoding": {"y": {"field": "y", "type": "quantitative"}}}
   ]},
  {"width": 54, "height": 52, "view": {"fill": "#ebebeb", "stroke": null}, "transform": [{"filter": "datum.p=='d4'"}],
   "encoding": {"x": {"field": "x", "type": "quantitative", "scale": {"domain": [9.5, 27], "nice": false, "zero": false}, "axis": {"title": "FLC-k", "values": [10,15,20,25], "gridColor": "white"}}},
   "layer": [
    {"transform": [{"filter": "datum.f==1"}], "mark": {"type": "area", "color": "#56b4e9", "opacity": 0.5, "interpolate": "monotone", "clip": true}, "encoding": {"y": {"field": "lo", "type": "quantitative", "scale": {"domain": [6.3, 21], "nice": false, "zero": false}, "axis": {"title": "FLC-λ", "values": [10,15,20], "gridColor": "white"}}, "y2": {"field": "hi"}}},
    {"transform": [{"filter": "datum.f!=1"}], "mark": {"type": "circle", "color": "#a0a0a0", "size": 18, "opacity": 0.8, "clip": true}, "encoding": {"y": {"field": "y", "type": "quantitative"}}},
    {"transform": [{"filter": "datum.f==1"}], "mark": {"type": "line", "color": "black", "strokeWidth": 1, "clip": true}, "encoding": {"y": {"field": "y", "type": "quantitative"}}}
   ]},
  {"width": 54, "height": 52, "view": {"fill": "#ebebeb", "stroke": null}, "transform": [{"filter": "datum.p=='d5'"}],
   "encoding": {"x": {"field": "x", "type": "quantitative", "scale": {"domain": [6.5, 18.8], "nice": false, "zero": false}, "axis": {"title": "FLC-λ", "values": [9,12,15,18], "gridColor": "white"}}},
   "layer": [
    {"transform": [{"filter": "datum.f==1"}], "mark": {"type": "area", "color": "#56b4e9", "opacity": 0.5, "interpolate": "monotone", "clip": true}, "encoding": {"y": {"field": "lo", "type": "quantitative", "scale": {"domain": [3.3, 10.6], "nice": false, "zero": false}, "axis": {"title": "IgG1", "values": [4,6,8,10], "gridColor": "white"}}, "y2": {"field": "hi"}}},
    {"transform": [{"filter": "datum.f!=1"}], "mark": {"type": "circle", "color": "#a0a0a0", "size": 18, "opacity": 0.8, "clip": true}, "encoding": {"y": {"field": "y", "type": "quantitative"}}},
    {"transform": [{"filter": "datum.f==1"}], "mark": {"type": "line", "color": "black", "strokeWidth": 1, "clip": true}, "encoding": {"y": {"field": "y", "type": "quantitative"}}}
   ]}
 ]},
 {"title": {"text": "(e)", "offset": -12, "dx": -20}, "data": {"name": "sc"}, "columns": 3, "bounds": "flush", "align": "all", "spacing": {"row": 24, "column": 28}, "concat": [
  {"width": 52, "height": 54, "view": {"fill": "white", "stroke": "#8c8c8c"}, "transform": [{"filter": "datum.p=='e1'"}],
   "encoding": {"x": {"field": "x", "type": "quantitative", "scale": {"domain": [-15, 515], "nice": false, "zero": false}, "axis": {"title": "RF-IgM", "values": [0,100,200,300,400,500]}}},
   "layer": [
    {"transform": [{"filter": "datum.f==1"}], "mark": {"type": "area", "color": "#56b4e9", "opacity": 0.5, "interpolate": "monotone", "clip": true}, "encoding": {"y": {"field": "lo", "type": "quantitative", "scale": {"domain": [-40, 530], "nice": false, "zero": false}, "axis": {"title": "RF-IgA", "values": [0,100,200,300,400,500]}}, "y2": {"field": "hi"}}},
    {"transform": [{"filter": "datum.f!=1"}], "mark": {"type": "circle", "color": "#a0a0a0", "size": 18, "opacity": 0.8, "clip": true}, "encoding": {"y": {"field": "y", "type": "quantitative"}}},
    {"transform": [{"filter": "datum.f==1"}], "mark": {"type": "line", "color": "black", "strokeWidth": 1, "clip": true}, "encoding": {"y": {"field": "y", "type": "quantitative"}}}
   ]},
  {"width": 52, "height": 54, "view": {"fill": "white", "stroke": "#8c8c8c"}, "transform": [{"filter": "datum.p=='e2'"}],
   "encoding": {"x": {"field": "x", "type": "quantitative", "scale": {"domain": [-15, 515], "nice": false, "zero": false}, "axis": {"title": "RF-IgM", "values": [0,100,200,300,400,500]}}},
   "layer": [
    {"transform": [{"filter": "datum.f==1"}], "mark": {"type": "area", "color": "#56b4e9", "opacity": 0.5, "interpolate": "monotone", "clip": true}, "encoding": {"y": {"field": "lo", "type": "quantitative", "scale": {"domain": [0.5, 15.8], "nice": false, "zero": false}, "axis": {"title": "IgG1", "values": [4,8,12]}}, "y2": {"field": "hi"}}},
    {"transform": [{"filter": "datum.f!=1"}], "mark": {"type": "circle", "color": "#a0a0a0", "size": 18, "opacity": 0.8, "clip": true}, "encoding": {"y": {"field": "y", "type": "quantitative"}}},
    {"transform": [{"filter": "datum.f==1"}], "mark": {"type": "line", "color": "black", "strokeWidth": 1, "clip": true}, "encoding": {"y": {"field": "y", "type": "quantitative"}}}
   ]},
  {"width": 52, "height": 54, "view": {"fill": "white", "stroke": "#8c8c8c"}, "transform": [{"filter": "datum.p=='e3'"}],
   "encoding": {"x": {"field": "x", "type": "quantitative", "scale": {"domain": [-15, 515], "nice": false, "zero": false}, "axis": {"title": "RF-IgM", "values": [0,100,200,300,400,500]}}},
   "layer": [
    {"transform": [{"filter": "datum.f==1"}], "mark": {"type": "area", "color": "#56b4e9", "opacity": 0.5, "interpolate": "monotone", "clip": true}, "encoding": {"y": {"field": "lo", "type": "quantitative", "scale": {"domain": [-100, 1280], "nice": false, "zero": false}, "axis": {"title": "RF-IgG", "values": [0,400,800,1200]}}, "y2": {"field": "hi"}}},
    {"transform": [{"filter": "datum.f!=1"}], "mark": {"type": "circle", "color": "#a0a0a0", "size": 18, "opacity": 0.8, "clip": true}, "encoding": {"y": {"field": "y", "type": "quantitative"}}},
    {"transform": [{"filter": "datum.f==1"}], "mark": {"type": "line", "color": "black", "strokeWidth": 1, "clip": true}, "encoding": {"y": {"field": "y", "type": "quantitative"}}}
   ]},
  {"width": 52, "height": 54, "view": {"fill": "#ebebeb", "stroke": null}, "transform": [{"filter": "datum.p=='e4'"}],
   "encoding": {"x": {"field": "x", "type": "quantitative", "scale": {"domain": [0.3, 6.2], "nice": false, "zero": false}, "axis": {"title": "IgG2", "values": [2,4,6], "gridColor": "white"}}},
   "layer": [
    {"transform": [{"filter": "datum.f==1"}], "mark": {"type": "area", "color": "#56b4e9", "opacity": 0.5, "interpolate": "monotone", "clip": true}, "encoding": {"y": {"field": "lo", "type": "quantitative", "scale": {"domain": [-0.3, 2.75], "nice": false, "zero": false}, "axis": {"title": "IgG3", "values": [0,1,2], "gridColor": "white"}}, "y2": {"field": "hi"}}},
    {"transform": [{"filter": "datum.f!=1"}], "mark": {"type": "circle", "color": "#a0a0a0", "size": 18, "opacity": 0.8, "clip": true}, "encoding": {"y": {"field": "y", "type": "quantitative"}}},
    {"transform": [{"filter": "datum.f==1"}], "mark": {"type": "line", "color": "black", "strokeWidth": 1, "clip": true}, "encoding": {"y": {"field": "y", "type": "quantitative"}}}
   ]},
  {"width": 52, "height": 54, "view": {"fill": "#ebebeb", "stroke": null}, "transform": [{"filter": "datum.p=='e5'"}],
   "encoding": {"x": {"field": "x", "type": "quantitative", "scale": {"domain": [0.05, 1.4], "nice": false, "zero": false}, "axis": {"title": "IgG4", "values": [0.5,1.0], "format": ".1f", "gridColor": "white"}}},
   "layer": [
    {"transform": [{"filter": "datum.f==1"}], "mark": {"type": "area", "color": "#56b4e9", "opacity": 0.5, "interpolate": "monotone", "clip": true}, "encoding": {"y": {"field": "lo", "type": "quantitative", "scale": {"domain": [-0.5, 17], "nice": false, "zero": false}, "axis": {"title": "IgG1", "values": [5,10,15], "gridColor": "white"}}, "y2": {"field": "hi"}}},
    {"transform": [{"filter": "datum.f!=1"}], "mark": {"type": "circle", "color": "#a0a0a0", "size": 18, "opacity": 0.8, "clip": true}, "encoding": {"y": {"field": "y", "type": "quantitative"}}},
    {"transform": [{"filter": "datum.f==1"}], "mark": {"type": "line", "color": "black", "strokeWidth": 1, "clip": true}, "encoding": {"y": {"field": "y", "type": "quantitative"}}}
   ]},
  {"width": 52, "height": 54, "view": {"fill": "white", "stroke": "#8c8c8c"}, "transform": [{"filter": "datum.p=='e6'"}],
   "encoding": {"x": {"field": "x", "type": "quantitative", "scale": {"domain": [0.5, 6.2], "nice": false, "zero": false}, "axis": {"title": "k/λ", "values": [2,4,6]}}},
   "layer": [
    {"transform": [{"filter": "datum.f==1"}], "mark": {"type": "area", "color": "#56b4e9", "opacity": 0.5, "interpolate": "monotone", "clip": true}, "encoding": {"y": {"field": "lo", "type": "quantitative", "scale": {"domain": [-15, 240], "nice": false, "zero": false}, "axis": {"title": "FLC-k", "values": [0,50,100,150,200]}}, "y2": {"field": "hi"}}},
    {"transform": [{"filter": "datum.f!=1"}], "mark": {"type": "circle", "color": "#a0a0a0", "size": 18, "opacity": 0.8, "clip": true}, "encoding": {"y": {"field": "y", "type": "quantitative"}}},
    {"transform": [{"filter": "datum.f==1"}], "mark": {"type": "line", "color": "black", "strokeWidth": 1, "clip": true}, "encoding": {"y": {"field": "y", "type": "quantitative"}}}
   ]},
  {"width": 52, "height": 54, "view": {"fill": "white", "stroke": "#8c8c8c"}, "transform": [{"filter": "datum.p=='e7'"}],
   "encoding": {"x": {"field": "x", "type": "quantitative", "scale": {"domain": [-15, 515], "nice": false, "zero": false}, "axis": {"title": "RF-IgA", "values": [0,100,200,300,400,500]}}},
   "layer": [
    {"transform": [{"filter": "datum.f==1"}], "mark": {"type": "area", "color": "#56b4e9", "opacity": 0.5, "interpolate": "monotone", "clip": true}, "encoding": {"y": {"field": "lo", "type": "quantitative", "scale": {"domain": [-80, 1560], "nice": false, "zero": false}, "axis": {"title": "RF-IgG", "values": [0,500,1000,1500]}}, "y2": {"field": "hi"}}},
    {"transform": [{"filter": "datum.f!=1"}], "mark": {"type": "circle", "color": "#a0a0a0", "size": 18, "opacity": 0.8, "clip": true}, "encoding": {"y": {"field": "y", "type": "quantitative"}}},
    {"transform": [{"filter": "datum.f==1"}], "mark": {"type": "line", "color": "black", "strokeWidth": 1, "clip": true}, "encoding": {"y": {"field": "y", "type": "quantitative"}}}
   ]},
  {"width": 52, "height": 54, "view": {"fill": "#ebebeb", "stroke": null}, "transform": [{"filter": "datum.p=='e8'"}],
   "encoding": {"x": {"field": "x", "type": "quantitative", "scale": {"domain": [-5, 172], "nice": false, "zero": false}, "axis": {"title": "FLC-λ", "values": [0,50,100,150], "gridColor": "white"}}},
   "layer": [
    {"transform": [{"filter": "datum.f==1"}], "mark": {"type": "area", "color": "#56b4e9", "opacity": 0.5, "interpolate": "monotone", "clip": true}, "encoding": {"y": {"field": "lo", "type": "quantitative", "scale": {"domain": [-15, 260], "nice": false, "zero": false}, "axis": {"title": "FLC-k", "values": [0,100,200], "gridColor": "white"}}, "y2": {"field": "hi"}}},
    {"transform": [{"filter": "datum.f!=1"}], "mark": {"type": "circle", "color": "#a0a0a0", "size": 18, "opacity": 0.8, "clip": true}, "encoding": {"y": {"field": "y", "type": "quantitative"}}},
    {"transform": [{"filter": "datum.f==1"}], "mark": {"type": "line", "color": "black", "strokeWidth": 1, "clip": true}, "encoding": {"y": {"field": "y", "type": "quantitative"}}}
   ]},
  {"width": 52, "height": 54, "view": {"fill": "white", "stroke": "#8c8c8c"}, "transform": [{"filter": "datum.p=='e9'"}],
   "encoding": {"x": {"field": "x", "type": "quantitative", "scale": {"domain": [-15, 515], "nice": false, "zero": false}, "axis": {"title": "RF-IgA", "values": [0,100,200,300,400,500]}}},
   "layer": [
    {"transform": [{"filter": "datum.f==1"}], "mark": {"type": "area", "color": "#56b4e9", "opacity": 0.5, "interpolate": "monotone", "clip": true}, "encoding": {"y": {"field": "lo", "type": "quantitative", "scale": {"domain": [0, 21], "nice": false, "zero": false}, "axis": {"title": "IgG1", "values": [5,10,15,20]}}, "y2": {"field": "hi"}}},
    {"transform": [{"filter": "datum.f!=1"}], "mark": {"type": "circle", "color": "#a0a0a0", "size": 18, "opacity": 0.8, "clip": true}, "encoding": {"y": {"field": "y", "type": "quantitative"}}},
    {"transform": [{"filter": "datum.f==1"}], "mark": {"type": "line", "color": "black", "strokeWidth": 1, "clip": true}, "encoding": {"y": {"field": "y", "type": "quantitative"}}}
   ]}
 ]}
 ], "spacing": -10},
 {"title": {"text": "(f)", "offset": -12, "dx": -4}, "data": {"name": "sc"}, "columns": 3, "bounds": "flush", "align": "all", "spacing": {"row": 28, "column": 26}, "concat": [
  {"width": 54, "height": 55, "view": {"fill": "white", "stroke": "#8c8c8c"}, "transform": [{"filter": "datum.p=='f1'"}],
   "encoding": {"x": {"field": "x", "type": "quantitative", "scale": {"domain": [-20, 515], "nice": false, "zero": false}, "axis": {"title": "RF-IgA", "values": [0,100,200,300,400,500]}}},
   "layer": [
    {"transform": [{"filter": "datum.f==1"}], "mark": {"type": "area", "color": "#56b4e9", "opacity": 0.5, "interpolate": "monotone", "clip": true}, "encoding": {"y": {"field": "lo", "type": "quantitative", "scale": {"domain": [-60, 560], "nice": false, "zero": false}, "axis": {"title": "RF-IgM", "values": [0,200,400]}}, "y2": {"field": "hi"}}},
    {"transform": [{"filter": "datum.f!=1"}], "mark": {"type": "circle", "color": "#a0a0a0", "size": 18, "opacity": 0.8, "clip": true}, "encoding": {"y": {"field": "y", "type": "quantitative"}}},
    {"transform": [{"filter": "datum.f==1"}], "mark": {"type": "line", "color": "black", "strokeWidth": 1, "clip": true}, "encoding": {"y": {"field": "y", "type": "quantitative"}}}
   ]},
  {"width": 54, "height": 55, "view": {"fill": "#ebebeb", "stroke": "#8c8c8c"}, "transform": [{"filter": "datum.p=='f2'"}],
   "encoding": {"x": {"field": "x", "type": "quantitative", "scale": {"domain": [0, 7], "nice": false, "zero": false}, "axis": {"title": "IgG2", "values": [0,2,4,6], "gridColor": "white"}}},
   "layer": [
    {"transform": [{"filter": "datum.f==1"}], "mark": {"type": "area", "color": "#e69f00", "opacity": 0.55, "interpolate": "monotone", "clip": true}, "encoding": {"y": {"field": "lo", "type": "quantitative", "scale": {"domain": [-270, 560], "nice": false, "zero": false}, "axis": {"title": "RF-IgM", "values": [-200,0,200,400], "gridColor": "white"}}, "y2": {"field": "hi"}}},
    {"transform": [{"filter": "datum.f!=1"}], "mark": {"type": "circle", "color": "#a0a0a0", "size": 18, "opacity": 0.8, "clip": true}, "encoding": {"y": {"field": "y", "type": "quantitative"}}},
    {"transform": [{"filter": "datum.f==1"}], "mark": {"type": "line", "color": "black", "strokeWidth": 1, "clip": true}, "encoding": {"y": {"field": "y", "type": "quantitative"}}}
   ]},
  {"width": 54, "height": 55, "view": {"fill": "white", "stroke": "#8c8c8c"}, "transform": [{"filter": "datum.p=='f3'"}],
   "encoding": {"x": {"field": "x", "type": "quantitative", "scale": {"domain": [-80, 2200], "nice": false, "zero": false}, "axis": {"title": "RF-IgG", "values": [0,500,1000,1500,2000]}}},
   "layer": [
    {"transform": [{"filter": "datum.f==1"}], "mark": {"type": "area", "color": "#56b4e9", "opacity": 0.5, "interpolate": "monotone", "clip": true}, "encoding": {"y": {"field": "lo", "type": "quantitative", "scale": {"domain": [-40, 820], "nice": false, "zero": false}, "axis": {"title": "RF-IgA", "values": [0,200,400,600,800]}}, "y2": {"field": "hi"}}},
    {"transform": [{"filter": "datum.f!=1"}], "mark": {"type": "circle", "color": "#a0a0a0", "size": 18, "opacity": 0.8, "clip": true}, "encoding": {"y": {"field": "y", "type": "quantitative"}}},
    {"transform": [{"filter": "datum.f==1"}], "mark": {"type": "line", "color": "black", "strokeWidth": 1, "clip": true}, "encoding": {"y": {"field": "y", "type": "quantitative"}}}
   ]},
  {"width": 54, "height": 55, "view": {"fill": "white", "stroke": "#8c8c8c"}, "transform": [{"filter": "datum.p=='f4'"}],
   "encoding": {"x": {"field": "x", "type": "quantitative", "scale": {"domain": [-80, 2200], "nice": false, "zero": false}, "axis": {"title": "RF-IgG", "values": [0,500,1000,1500,2000]}}},
   "layer": [
    {"transform": [{"filter": "datum.f==1"}], "mark": {"type": "area", "color": "#56b4e9", "opacity": 0.5, "interpolate": "monotone", "clip": true}, "encoding": {"y": {"field": "lo", "type": "quantitative", "scale": {"domain": [-60, 920], "nice": false, "zero": false}, "axis": {"title": "RF-IgM", "values": [0,250,500,750]}}, "y2": {"field": "hi"}}},
    {"transform": [{"filter": "datum.f!=1"}], "mark": {"type": "circle", "color": "#a0a0a0", "size": 18, "opacity": 0.8, "clip": true}, "encoding": {"y": {"field": "y", "type": "quantitative"}}},
    {"transform": [{"filter": "datum.f==1"}], "mark": {"type": "line", "color": "black", "strokeWidth": 1, "clip": true}, "encoding": {"y": {"field": "y", "type": "quantitative"}}}
   ]},
  {"width": 54, "height": 55, "view": {"fill": "white", "stroke": "#8c8c8c"}, "transform": [{"filter": "datum.p=='f5'"}],
   "encoding": {"x": {"field": "x", "type": "quantitative", "scale": {"domain": [-15, 515], "nice": false, "zero": false}, "axis": {"title": "RF-IgA", "values": [0,100,200,300,400,500]}}},
   "layer": [
    {"transform": [{"filter": "datum.f==1"}], "mark": {"type": "area", "color": "#56b4e9", "opacity": 0.5, "interpolate": "monotone", "clip": true}, "encoding": {"y": {"field": "lo", "type": "quantitative", "scale": {"domain": [8, 58], "nice": false, "zero": false}, "axis": {"title": "FLC-k", "values": [10,20,30,40,50]}}, "y2": {"field": "hi"}}},
    {"transform": [{"filter": "datum.f!=1"}], "mark": {"type": "circle", "color": "#a0a0a0", "size": 18, "opacity": 0.8, "clip": true}, "encoding": {"y": {"field": "y", "type": "quantitative"}}},
    {"transform": [{"filter": "datum.f==1"}], "mark": {"type": "line", "color": "black", "strokeWidth": 1, "clip": true}, "encoding": {"y": {"field": "y", "type": "quantitative"}}}
   ]},
  {"width": 54, "height": 55, "view": {"fill": "white", "stroke": "#8c8c8c"}, "transform": [{"filter": "datum.p=='f6'"}],
   "encoding": {"x": {"field": "x", "type": "quantitative", "scale": {"domain": [-0.1, 4.35], "nice": false, "zero": false}, "axis": {"title": "IgG3", "values": [0,1,2,3,4]}}},
   "layer": [
    {"transform": [{"filter": "datum.f==1"}], "mark": {"type": "area", "color": "#56b4e9", "opacity": 0.5, "interpolate": "monotone", "clip": true}, "encoding": {"y": {"field": "lo", "type": "quantitative", "scale": {"domain": [0.05, 1.03], "nice": false, "zero": false}, "axis": {"title": "IgG4", "titleFontStyle": "normal", "titleColor": "#222222", "values": [0.25,0.5,0.75,1.0], "format": ".2f"}}, "y2": {"field": "hi"}}},
    {"transform": [{"filter": "datum.f!=1"}], "mark": {"type": "circle", "color": "#a0a0a0", "size": 18, "opacity": 0.8, "clip": true}, "encoding": {"y": {"field": "y", "type": "quantitative"}}},
    {"transform": [{"filter": "datum.f==1"}], "mark": {"type": "line", "color": "black", "strokeWidth": 1, "clip": true}, "encoding": {"y": {"field": "y", "type": "quantitative"}}}
   ]}
 ]}
], "spacing": 20}
]
}
